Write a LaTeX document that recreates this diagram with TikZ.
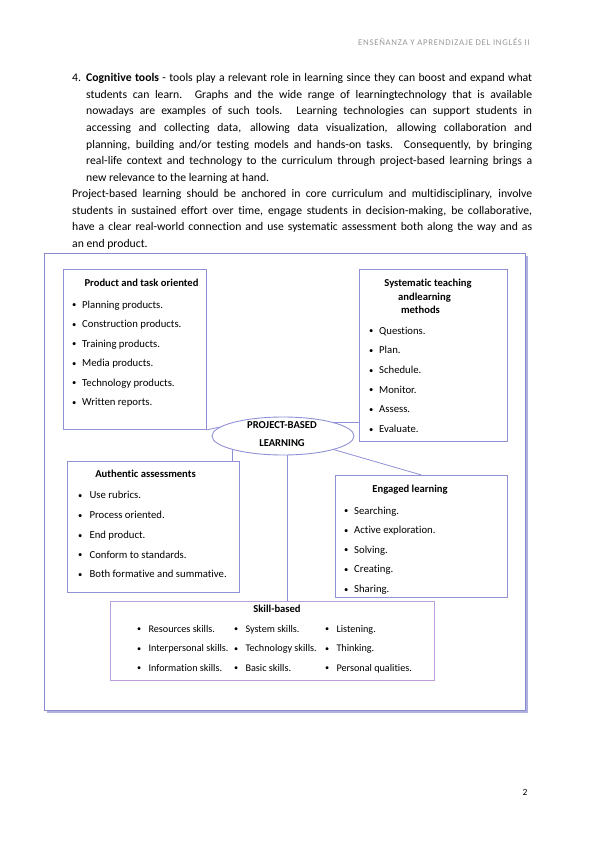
\documentclass[tikz,border=0pt]{standalone}
\usepackage{fontspec}
\setmainfont{Carlito}[Ligatures=NoCommon]
\usetikzlibrary{shapes.geometric}
\definecolor{frameblue}{HTML}{8A8AD0}
\definecolor{shadowblue}{HTML}{B0B0E0}
\definecolor{boxblue}{HTML}{9090D6}
\definecolor{skillpurple}{HTML}{BC9FDA}
\definecolor{headgray}{HTML}{9A9A9A}
\newcommand\pbul[1][10pt]{\makebox[#1][l]{\raisebox{0.4pt}{\scalebox{0.8}{\textbullet}}}}
\newcommand\jline[2]{\makebox[#1][s]{#2}}
\begin{document}
\begin{tikzpicture}[x=1pt,y=-1pt,
  box/.style={draw=boxblue, line width=0.9pt, fill=white, inner sep=0pt, anchor=north west},
  itm/.style={anchor=base west, inner sep=0pt, font=\fontsize{10.7}{12}\selectfont},
  sitm/.style={anchor=base west, inner sep=0pt, font=\fontsize{10.2}{12}\selectfont},
  ttl/.style={anchor=base, inner sep=0pt, font=\bfseries\fontsize{10.6}{12}\selectfont},
  body/.style={anchor=base west, inner sep=0pt, font=\fontsize{11.7}{13}\selectfont},
  conn/.style={draw=boxblue, line width=0.8pt}]
\useasboundingbox (0,0) rectangle (599,848);
\fill[white] (0,0) rectangle (599,848);

% header and page number
\node[anchor=base east, inner sep=0pt, text=headgray, font=\fontsize{8.8}{10}\selectfont\addfontfeature{LetterSpace=8}] (head) at (530,45.5) {ENSEÑANZA Y APRENDIZAJE DEL INGLÉS II};
\node[anchor=base, inner sep=0pt, font=\fontsize{9.5}{11}\selectfont] (pnum) at (525,795.5) {2};

% body text
\node[body] (n4) at (72,82) {4.};
\node[body] (l1) at (86,82) {\jline{446pt}{\textbf{Cognitive tools} - tools play a relevant role in learning since they can boost and expand what}};
\node[body] (l2) at (86,98.5) {\jline{446pt}{students can learn. Graphs and the wide range of learningtechnology that is available}};
\node[body] (l3) at (86,115) {\jline{446pt}{nowadays are examples of such tools. Learning technologies can support students in}};
\node[body] (l4) at (86,131.5) {\jline{446pt}{accessing and collecting data, allowing data visualization, allowing collaboration and}};
\node[body] (l5) at (86,148) {\jline{446pt}{planning, building and/or testing models and hands-on tasks. Consequently, by bringing}};
\node[body] (l6) at (86,164.5) {\jline{446pt}{real-life context and technology to the curriculum through project-based learning brings a}};
\node[body] (l7) at (86,181) {new relevance to the learning at hand.};
\node[body] (p1) at (72,197.5) {\jline{460pt}{Project-based learning should be anchored in core curriculum and multidisciplinary, involve}};
\node[body] (p2) at (72,214) {\jline{460pt}{students in sustained effort over time, engage students in decision-making, be collaborative,}};
\node[body] (p3) at (72,230.5) {\jline{460pt}{have a clear real-world connection and use systematic assessment both along the way and as}};
\node[body] (p4) at (72,247) {an end product.};

% outer frame with shadow
\fill[shadowblue] (47,256) rectangle (527.5,712.5);
\node[draw=frameblue, fill=white, line width=1pt, inner sep=0pt, anchor=north west,
      minimum width=481pt, minimum height=457pt] (frame) at (44,253) {};

% central ellipse
\node[ellipse, draw=boxblue, fill=white, line width=0.9pt, inner sep=0pt,
      minimum width=142pt, minimum height=38pt] (pbl) at (283,436) {};
\node[ttl] (pbl1) at (282,428) {PROJECT-BASED};
\node[ttl] (pbl2) at (282,446) {LEARNING};

% boxes
\node[box, minimum width=143pt, minimum height=160pt] (pt) at (63,269) {};
\node[box, minimum width=148pt, minimum height=172pt] (sys) at (359,269) {};
\node[box, minimum width=172pt, minimum height=131pt] (auth) at (67,461) {};
\node[box, minimum width=172pt, minimum height=122pt] (eng) at (335,475) {};
\node[box, draw=skillpurple, minimum width=324pt, minimum height=79pt] (skill) at (110,601) {};

% connectors
\draw[conn] (pt.south east) -- (pbl.172);
\draw[conn] (pbl.16) -- (pbl.16 -| sys.west);
\draw[conn] (pbl.195) -- (pbl.195 |- auth.north);
\draw[conn] (pbl.282) -- (pbl.282 |- skill.north);
\draw[conn] (pbl.345) -- (eng.north);

% Product and task oriented
\node[ttl] (ptt) at (141.5,286) {Product and task oriented};
\node[itm] (pt1) at (72,308) {\pbul Planning products.};
\node[itm] (pt2) at (72,327.5) {\pbul Construction products.};
\node[itm] (pt3) at (72,347) {\pbul Training products.};
\node[itm] (pt4) at (72,366.5) {\pbul Media products.};
\node[itm] (pt5) at (72,386) {\pbul Technology products.};
\node[itm] (pt6) at (72,405.5) {\pbul Written reports.};

% Systematic teaching and learning methods
\node[ttl] (syt1) at (428,286) {Systematic teaching};
\node[ttl] (syt2) at (424.5,300) {andlearning};
\node[ttl] (syt3) at (420.5,313) {methods};
\node[itm] (sy1) at (369,334) {\pbul Questions.};
\node[itm] (sy2) at (369,353.5) {\pbul Plan.};
\node[itm] (sy3) at (369,373.5) {\pbul Schedule.};
\node[itm] (sy4) at (369,393) {\pbul Monitor.};
\node[itm] (sy5) at (369,412.5) {\pbul Assess.};
\node[itm] (sy6) at (369,432.5) {\pbul Evaluate.};

% Authentic assessments
\node[ttl] (aut) at (145.5,477) {Authentic assessments};
\node[itm] (au1) at (78,498.5) {\pbul[9pt] Use rubrics.};
\node[itm] (au2) at (78,518.5) {\pbul[9pt] Process oriented.};
\node[itm] (au3) at (78,538.5) {\pbul[9pt] End product.};
\node[itm] (au4) at (78,558) {\pbul[9pt] Conform to standards.};
\node[itm] (au5) at (78,577.5) {\pbul[9pt] Both formative and summative.};

% Engaged learning
\node[ttl] (ent) at (410,492) {Engaged learning};
\node[itm] (en1) at (344,514) {\pbul Searching.};
\node[itm] (en2) at (344,533.5) {\pbul Active exploration.};
\node[itm] (en3) at (344,553) {\pbul Solving.};
\node[itm] (en4) at (344,572.5) {\pbul Creating.};
\node[itm] (en5) at (344,592.5) {\pbul Sharing.};

% Skill-based
\node[ttl] (skt) at (277,612.5) {Skill-based};
\node[sitm] (sk11) at (137,632) {\pbul[9pt] Resources skills.};
\node[sitm] (sk12) at (234,632) {\pbul[9pt] System skills.};
\node[sitm] (sk13) at (325,632) {\pbul[9pt] Listening.};
\node[sitm] (sk21) at (137,651.5) {\pbul[9pt] Interpersonal skills.};
\node[sitm] (sk22) at (234,651.5) {\pbul[9pt] Technology skills.};
\node[sitm] (sk23) at (325,651.5) {\pbul[9pt] Thinking.};
\node[sitm] (sk31) at (137,671) {\pbul[9pt] Information skills.};
\node[sitm] (sk32) at (234,671) {\pbul[9pt] Basic skills.};
\node[sitm] (sk33) at (325,671) {\pbul[9pt] Personal qualities.};
\end{tikzpicture}
\end{document}
